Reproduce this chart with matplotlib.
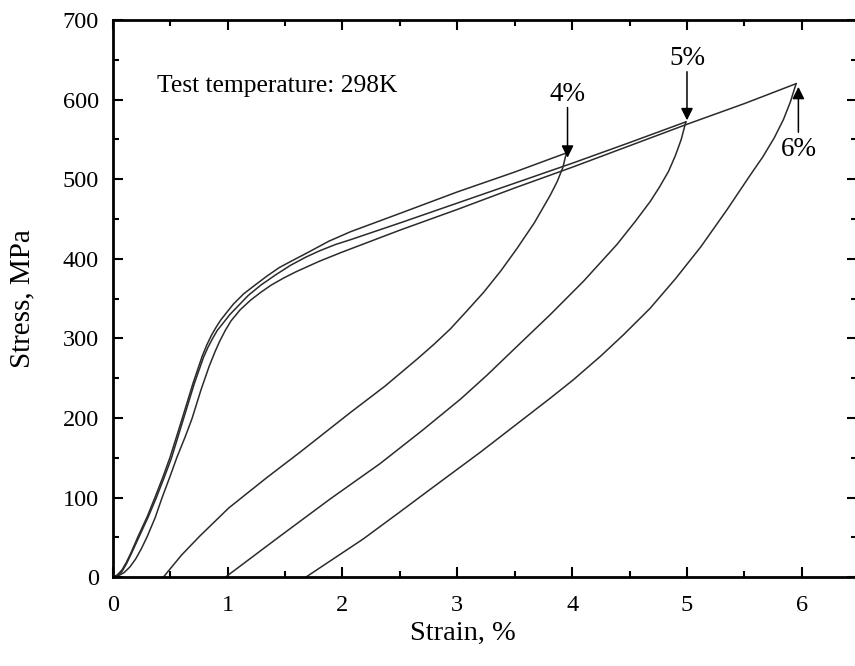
import numpy as np
import matplotlib
matplotlib.use('Agg')
import matplotlib.pyplot as plt
from matplotlib.ticker import MultipleLocator

plt.rcParams['font.family'] = ['Liberation Serif', 'DejaVu Serif']

# loading branches (strain %, stress MPa)
load4_x = [0, 0.04, 0.08, 0.12, 0.16, 0.22, 0.3, 0.37, 0.44, 0.5, 0.6, 0.7, 0.78, 0.82, 0.86, 0.9, 0.94, 1.0, 1.05, 1.14, 1.23, 1.34, 1.45, 1.58, 1.7, 1.88, 2.07, 2.5, 3.0, 3.5, 3.95]
load4_y = [0, 3, 9, 19, 31, 51, 76, 101, 127, 151, 197, 244, 278, 292, 304, 314, 323, 334, 343, 356, 366, 378, 389, 399, 408, 422, 434, 457, 484, 509, 533]

load5_x = [0, 0.04, 0.08, 0.12, 0.16, 0.23, 0.31, 0.38, 0.45, 0.51, 0.61, 0.71, 0.79, 0.83, 0.87, 0.91, 0.96, 1.02, 1.08, 1.18, 1.29, 1.42, 1.55, 1.68, 1.8, 1.94, 2.07, 2.5, 3.0, 3.5, 4.0, 4.5, 4.99]
load5_y = [0, 2, 7, 17, 29, 51, 76, 100, 126, 149, 196, 243, 276, 289, 300, 310, 319, 330, 339, 354, 367, 380, 392, 402, 410, 418, 424, 445, 470, 495, 520, 546, 572]

load6_x = [0, 0.05, 0.1, 0.15, 0.2, 0.25, 0.3, 0.37, 0.43, 0.5, 0.56, 0.63, 0.69, 0.77, 0.84, 0.89, 0.93, 0.98, 1.03, 1.11, 1.2, 1.29, 1.38, 1.49, 1.6, 1.8, 1.99, 2.5, 3.0, 3.5, 4.0, 4.5, 5.0, 5.5, 5.95]
load6_y = [0, 2, 6, 13, 23, 36, 51, 75, 100, 127, 151, 176, 199, 236, 265, 283, 296, 310, 322, 336, 348, 358, 367, 376, 384, 397, 408, 436, 462, 489, 515, 542, 569, 595, 620]

# unloading branches
unl4_x = [3.95, 3.92, 3.87, 3.81, 3.67, 3.52, 3.38, 3.23, 3.08, 2.94, 2.8, 2.65, 2.37, 2.07, 1.63, 1.34, 1.01, 0.76, 0.6, 0.44]
unl4_y = [533, 515, 497, 480, 445, 413, 385, 358, 334, 312, 293, 274, 240, 207, 157, 125, 87, 52, 28, 0]

unl5_x = [4.99, 4.95, 4.9, 4.84, 4.76, 4.68, 4.55, 4.39, 4.1, 3.81, 3.52, 3.26, 3.03, 2.7, 2.33, 1.89, 1.46, 0.98]
unl5_y = [572, 550, 530, 510, 490, 472, 447, 418, 372, 330, 290, 254, 224, 185, 143, 98, 52, 0]

unl6_x = [5.95, 5.9, 5.84, 5.76, 5.66, 5.55, 5.35, 5.12, 4.9, 4.68, 4.45, 4.25, 4.01, 3.81, 3.55, 3.2, 2.76, 2.5, 2.18, 1.68]
unl6_y = [620, 597, 575, 552, 528, 505, 462, 415, 375, 338, 305, 278, 248, 225, 196, 157, 110, 82, 48, 0]

# arrow labels: text, strain, stress at tip, stress at text
marks = ['4%', '5%', '6%']
mark_x = [3.96, 5.0, 5.97]
mark_tip = [527, 574, 616]
mark_txt = [607, 652, 537]

fig = plt.figure(figsize=(8.55, 6.66), dpi=100)
ax = fig.add_axes([0.1318, 0.1332, 0.8705, 0.8368])

c = '#2b2b2b'
for xs, ys in [(load4_x, load4_y), (load5_x, load5_y), (load6_x, load6_y),
               (unl4_x, unl4_y), (unl5_x, unl5_y), (unl6_x, unl6_y)]:
    ax.plot(xs, ys, color=c, lw=1.1)

for t, x, tip, ty in zip(marks, mark_x, mark_tip, mark_txt):
    ax.annotate('', xy=(x, tip), xytext=(x, ty + (-17 if ty > tip else 22)),
                arrowprops=dict(arrowstyle='-|>', color='black', lw=1.1,
                                mutation_scale=18, shrinkA=0, shrinkB=0))
    ax.text(x, ty, t, ha='center', va='center', fontsize=19.5)

ax.text(0.39, 617, 'Test temperature: 298K', fontsize=18.4, va='center', ha='left')

ax.set_xlim(0, 6.48)
ax.set_ylim(0, 700)
ax.xaxis.set_major_locator(MultipleLocator(1))
ax.xaxis.set_minor_locator(MultipleLocator(0.5))
ax.yaxis.set_major_locator(MultipleLocator(100))
ax.yaxis.set_minor_locator(MultipleLocator(50))
ax.set_xticks(range(0, 7))
ax.tick_params(which='both', direction='in', top=True, right=True, labelsize=17.5, width=1.5)
ax.tick_params(which='major', length=7)
ax.tick_params(which='minor', length=4)
ax.tick_params(axis='x', which='major', pad=13)
ax.tick_params(axis='y', which='major', pad=10)
for s in ax.spines.values():
    s.set_linewidth(2)

ax.set_xlabel('Strain, %', fontsize=20.5, va='center')
ax.set_ylabel('Stress, MPa', fontsize=21, va='center')
ax.xaxis.set_label_coords(0.47, -0.1)
ax.yaxis.set_label_coords(-0.122, 0.5)

fig.savefig('out.png', dpi=100)
